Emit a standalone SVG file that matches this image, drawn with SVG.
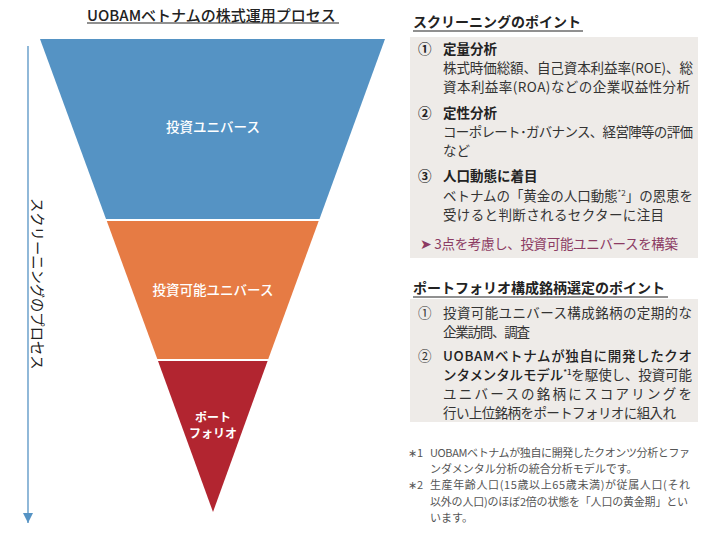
<svg xmlns="http://www.w3.org/2000/svg" width="720" height="533" viewBox="0 0 720 533">
<defs>
<style>
text{font-family:"Noto Sans CJK JP","Noto Sans",sans-serif;}
.title{font-size:15px;font-weight:500;fill:#222;}
.head{font-size:14px;font-weight:bold;fill:#222;}
.b{font-size:13.5px;fill:#333;}
.bb{font-size:13.5px;font-weight:bold;fill:#222;}
.bm{font-weight:500;fill:#222;}
.fn{font-size:11px;fill:#555;}
.lbl{font-size:13.5px;font-weight:500;fill:#fff;text-anchor:middle;}
.box{fill:#EEEBE8;}
.ul{stroke:#222;stroke-width:1.2;}
</style>
<marker id="ah" viewBox="0 0 10 10" refX="10" refY="5" markerWidth="10" markerHeight="10" markerUnits="userSpaceOnUse" orient="auto">
<path d="M0,0 L10,5 L0,10 Z" fill="#5593C4"/>
</marker>
</defs>
<rect width="720" height="533" fill="#fff"/>

<g id="title">
<text class="title" x="87" y="21">UOBAMベトナムの株式運用プロセス</text>
<line class="ul" x1="87" y1="23" x2="339" y2="23"/>
</g>

<g id="connectors">
<line x1="28" y1="46" x2="28" y2="523" stroke="#5593C4" stroke-width="1.3" marker-end="url(#ah)"/>
</g>
<g id="axis-label">
<text transform="translate(31.5,198) rotate(90)" style="font-size:14.3px;fill:#222;">スクリーニングのプロセス</text>
</g>

<g id="universe">
<polygon points="40,39 385,39 319.5,219 106,219" fill="#5593C4"/>
<text class="lbl" x="213" y="132">投資ユニバース</text>
</g>
<g id="investable">
<polygon points="106.8,221 318.7,221 268.3,359 157.3,359" fill="#E67B44"/>
<text class="lbl" x="213" y="295">投資可能ユニバース</text>
</g>
<g id="portfolio">
<polygon points="158,361 267.6,361 213,512" fill="#B22530"/>
<text class="lbl" x="213" y="422" style="font-size:12px;font-weight:bold;">ポート</text>
<text class="lbl" x="213" y="438" style="font-size:12px;font-weight:bold;">フォリオ</text>
</g>

<g id="screening-points">
<text class="head" x="413" y="27">スクリーニングのポイント</text>
<line class="ul" x1="413" y1="31" x2="583" y2="31"/>
<rect class="box" x="410" y="37" width="288" height="221"/>
<text class="bb" x="418" y="54">①</text>
<text class="bb" x="443" y="54">定量分析</text>
<text class="b" x="443" y="73" textLength="250" lengthAdjust="spacing">株式時価総額、自己資本利益率(ROE)、総</text>
<text class="b" x="443" y="92" textLength="247" lengthAdjust="spacing">資本利益率(ROA)などの企業収益性分析</text>
<text class="bb" x="418" y="118">②</text>
<text class="bb" x="443" y="118">定性分析</text>
<text class="b" x="443" y="137" textLength="250" lengthAdjust="spacing">コーポレート･ガバナンス、経営陣等の評価</text>
<text class="b" x="443" y="156">など</text>
<text class="bb" x="418" y="181">③</text>
<text class="bb" x="443" y="181">人口動態に着目</text>
<text class="b" x="443" y="201" textLength="250" lengthAdjust="spacing">ベトナムの「黄金の人口動態<tspan style="font-size:8px" dy="-5">*2</tspan><tspan dy="5">」の恩恵を</tspan></text>
<text class="b" x="443" y="220" textLength="221" lengthAdjust="spacing">受けると判断されるセクターに注目</text>
<text class="b" x="420" y="249" style="fill:#8C3B63;" textLength="258" lengthAdjust="spacing">➤ 3点を考慮し、投資可能ユニバースを構築</text>
</g>

<g id="portfolio-points">
<text class="head" x="413" y="293">ポートフォリオ構成銘柄選定のポイント</text>
<line class="ul" x1="413" y1="297" x2="668" y2="297"/>
<rect class="box" x="410" y="299" width="288" height="123"/>
<text class="b" x="418" y="318">①</text>
<text class="b" x="443" y="318" textLength="249" lengthAdjust="spacing">投資可能ユニバース構成銘柄の定期的な</text>
<text class="b" x="443" y="337" textLength="87" lengthAdjust="spacing">企業訪問、調査</text>
<text class="b" x="418" y="361">②</text>
<text class="b bm" x="443" y="361" textLength="249" lengthAdjust="spacing">UOBAMベトナムが独自に開発したクオ</text>
<text class="b" x="443" y="380" textLength="249" lengthAdjust="spacing"><tspan class="bm">ンタメンタルモデル</tspan><tspan class="bm" style="font-size:8px;" dy="-5">*1</tspan><tspan dy="5">を駆使し、投資可能</tspan></text>
<text class="b" x="443" y="399" textLength="249" lengthAdjust="spacing">ユニバースの銘柄にスコアリングを</text>
<text class="b" x="443" y="418" textLength="233" lengthAdjust="spacing">行い上位銘柄をポートフォリオに組入れ</text>
</g>

<g id="footnotes">
<text class="fn" x="408" y="457">∗1</text>
<text class="fn" x="430" y="457" textLength="260" lengthAdjust="spacing">UOBAMベトナムが独自に開発したクオンツ分析とファ</text>
<text class="fn" x="430" y="473">ンダメンタル分析の統合分析モデルです。</text>
<text class="fn" x="408" y="489">∗2</text>
<text class="fn" x="430" y="489" textLength="260" lengthAdjust="spacing">生産年齢人口(15歳以上65歳未満)が従属人口(それ</text>
<text class="fn" x="430" y="506" textLength="258" lengthAdjust="spacing">以外の人口)のほぼ2倍の状態を「人口の黄金期」とい</text>
<text class="fn" x="430" y="522">います。</text>
</g>
</svg>
